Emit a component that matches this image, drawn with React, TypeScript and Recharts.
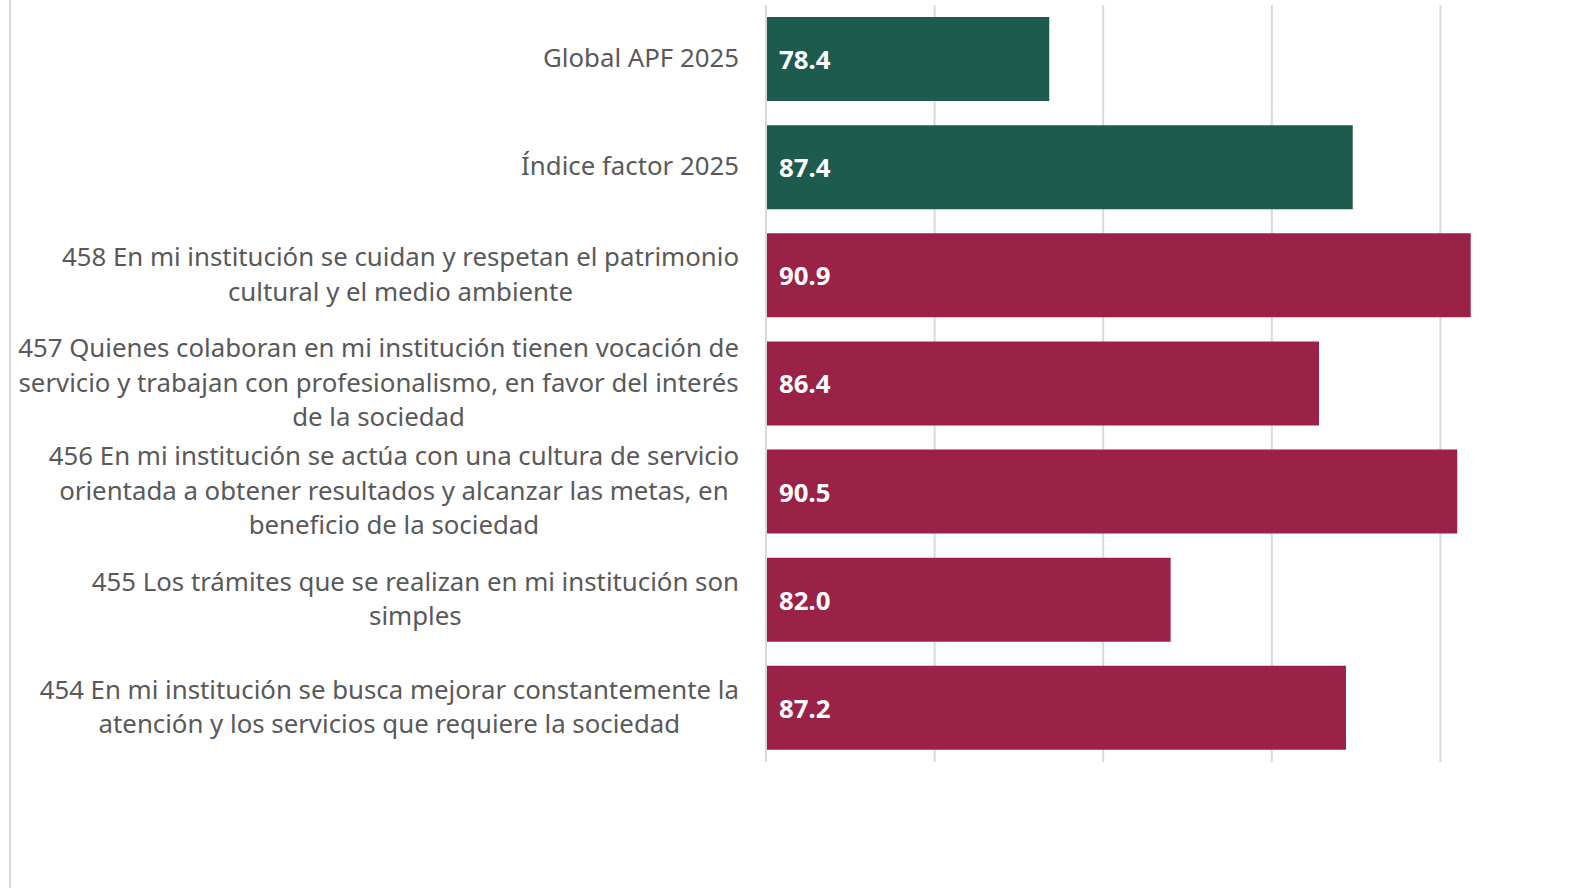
import React from "react";
import { BarChart, Bar, XAxis, YAxis, CartesianGrid, Cell, LabelList } from "recharts";

const categories: string[] = [
  "Global APF 2025",
  "Índice factor 2025",
  "458 En mi institución se cuidan y respetan el patrimonio\ncultural y el medio ambiente",
  "457 Quienes colaboran en mi institución tienen vocación de\nservicio y trabajan con profesionalismo, en favor del interés\nde la sociedad",
  "456 En mi institución se actúa con una cultura de servicio\norientada a obtener resultados y alcanzar las metas, en\nbeneficio de la sociedad",
  "455 Los trámites que se realizan en mi institución son\nsimples",
  "454 En mi institución se busca mejorar constantemente la\natención y los servicios que requiere la sociedad",
];
const values: number[] = [78.4, 87.4, 90.9, 86.4, 90.5, 82.0, 87.2];
const groups: string[] = ["index", "index", "item", "item", "item", "item", "item"];
const xTicks: number[] = [70, 75, 80, 85, 90, 95];

const data = categories.map((c, i) => ({ name: c, value: values[i], group: groups[i] }));

const GREEN = "#1E5B4F";
const MAROON = "#9B2247";
const FONT = "Noto Sans";
const FS = 25.8;
const LINE_H = 34.6;

let ctx: CanvasRenderingContext2D | null = null;
function measure(t: string): number {
  if (!ctx) {
    const c = document.createElement("canvas");
    ctx = c.getContext("2d");
  }
  if (!ctx) return t.length * FS * 0.5;
  ctx.font = `${FS}px "${FONT}"`;
  return ctx.measureText(t).width;
}

const YTick = (props: any) => {
  const { x, y, payload } = props;
  const lines: string[] = String(payload.value).split("\n");
  const w = Math.max(...lines.map(measure));
  const right = x - 27;
  const cx = right - w / 2;
  const y0 = y - 1.8 - ((lines.length - 1) / 2) * LINE_H;
  return (
    <text x={cx} y={y0} textAnchor="middle" fill="#595959" fontFamily={FONT} fontSize={FS}>
      {lines.map((l, i) => (
        <tspan key={i} x={cx} y={y0 + i * LINE_H} dominantBaseline="central">
          {l}
        </tspan>
      ))}
    </text>
  );
};

const EmptyTick = () => <g />;

const ValueLabel = (props: any) => {
  const { x, y, height, value } = props;
  return (
    <text
      x={x + 13}
      y={y + height / 2}
      fill="#ffffff"
      fontFamily={FONT}
      fontSize={FS}
      fontWeight="bold"
      dominantBaseline="central"
    >
      {Number(value).toFixed(1)}
    </text>
  );
};

export default function App() {
  return (
    <div style={{ position: "relative", width: 1591, height: 888, overflow: "hidden", background: "#fff" }}>
      <style>{"body{margin:0;}"}</style>
      <div
        style={{ position: "absolute", left: 9, top: 0, width: 2, height: 888, background: "#D9D9D9" }}
      />
      <div style={{ position: "absolute", left: 0, top: 0 }}>
        <BarChart
          width={1620}
          height={888}
          data={data}
          layout="vertical"
          margin={{ top: 5, right: 11, bottom: 125, left: 0 }}
        >
          <CartesianGrid horizontal={false} vertical={true} stroke="#D9D9D9" strokeWidth={2} />
          <XAxis
            type="number"
            domain={[70, 95]}
            ticks={xTicks}
            allowDataOverflow
            tick={<EmptyTick />}
            axisLine={false}
            tickLine={false}
            height={1}
          />
          <YAxis
            type="category"
            dataKey="name"
            width={766}
            tick={<YTick />}
            tickLine={false}
            tickSize={0}
            tickMargin={0}
            axisLine={{ stroke: "#D9D9D9", strokeWidth: 2 }}
            interval={0}
          />
          <Bar dataKey="value" barSize={84} isAnimationActive={false}>
            {data.map((d, i) => (
              <Cell key={i} fill={d.group === "index" ? GREEN : MAROON} />
            ))}
            <LabelList dataKey="value" content={<ValueLabel />} />
          </Bar>
        </BarChart>
      </div>
    </div>
  );
}
